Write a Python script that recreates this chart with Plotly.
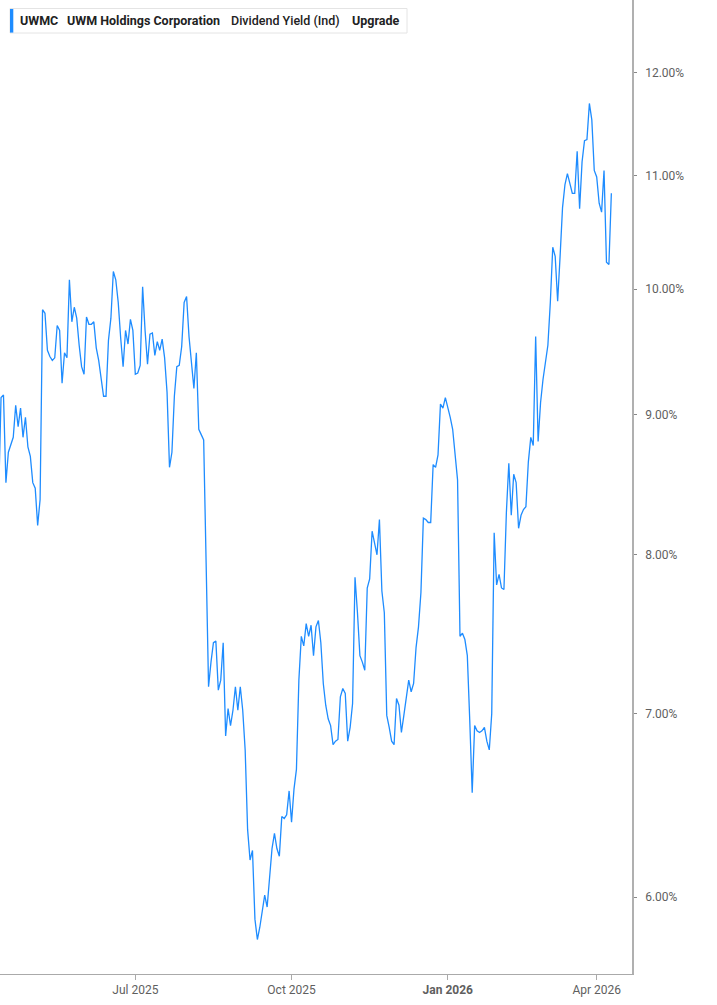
import numpy as np
import pandas as pd
import plotly.graph_objects as go

# US market holidays inside the window (no trading, no gap on the chart)
holidays = ["2025-04-18", "2025-05-26", "2025-06-19", "2025-07-04", "2025-09-01",
            "2025-11-27", "2025-12-25", "2026-01-01", "2026-01-19", "2026-02-16",
            "2026-04-03"]

# UWMC dividend yield (ind), % , one value per trading day from 2025-04-09
div_yield = [
    8.40, 9.13, 9.15, 8.50, 8.72, 8.77, 8.83, 9.07, 8.91, 9.05,
    8.83, 8.98, 8.76, 8.69, 8.50, 8.46, 8.20, 8.38, 9.83, 9.80,
    9.50, 9.45, 9.42, 9.44, 9.70, 9.66, 9.24, 9.48, 9.44, 10.08,
    9.73, 9.85, 9.76, 9.54, 9.37, 9.31, 9.77, 9.71, 9.71, 9.73,
    9.52, 9.42, 9.27, 9.14, 9.14, 9.58, 9.76, 10.15, 10.08, 9.89,
    9.60, 9.37, 9.66, 9.55, 9.75, 9.66, 9.31, 9.32, 9.38, 10.02,
    9.66, 9.39, 9.63, 9.64, 9.46, 9.57, 9.50, 9.59, 9.44, 9.17,
    8.61, 8.72, 9.14, 9.37, 9.38, 9.53, 9.89, 9.94, 9.61, 9.37,
    9.20, 9.48, 8.89, 8.85, 8.81, 7.95,
    7.16, 7.31, 7.43, 7.44, 7.14, 7.20, 7.43, 6.87, 7.03, 6.93,
    7.02, 7.16, 7.02, 7.16, 7.02, 6.79, 6.35, 6.19, 6.24, 5.89,
    5.79, 5.85, 5.93, 6.01, 5.95, 6.09, 6.25, 6.33, 6.25, 6.21,
    6.42, 6.41, 6.43, 6.56, 6.39, 6.57, 6.68, 7.20, 7.47, 7.41,
    7.55, 7.47, 7.54, 7.35, 7.53, 7.57, 7.43, 7.18, 7.05, 6.97,
    6.93, 6.82, 6.84, 6.85, 7.10, 7.15, 7.12,
    6.84, 6.92, 7.06, 7.85, 7.62, 7.35, 7.31, 7.26, 7.78, 7.84,
    8.16, 8.08, 8.00, 8.24, 7.76, 7.62, 6.99, 6.92, 6.84, 6.82,
    7.09, 7.05, 6.89, 6.99, 7.10, 7.20, 7.13, 7.18, 7.40, 7.53,
    7.75, 8.25, 8.24, 8.22, 8.22, 8.63, 8.61, 8.70, 9.08, 9.05,
    9.13, 9.06, 8.98, 8.89, 8.69, 8.52, 7.47, 7.49, 7.45, 7.35,
    6.96, 6.55, 6.93, 6.90, 6.89, 6.90, 6.92, 6.84, 6.79, 7.00,
    8.15, 7.80, 7.87, 7.78, 7.77, 8.29, 8.64, 8.27, 8.56, 8.50,
    8.18, 8.27, 8.31, 8.33, 8.65, 8.83, 8.77, 9.61, 8.80, 9.09,
    9.27, 9.40, 9.54, 9.89, 10.36, 10.28, 9.90, 10.28, 10.71, 10.92,
    11.02, 10.93, 10.84, 10.84, 11.23, 10.70, 11.13, 11.33, 11.34, 11.69,
    11.53, 11.05, 10.99, 10.75, 10.67, 11.05, 10.23, 10.21, 10.84,
]

dates = pd.bdate_range(start="2025-04-09", periods=len(div_yield), freq="C", holidays=holidays)

y_ticks = [6, 7, 8, 9, 10, 11, 12]
y_ticktext = ["6.00%", "7.00%", "8.00%", "9.00%", "10.00%", "11.00%", "12.00%"]
x_ticks = ["2025-07-01", "2025-10-01", "2026-01-02", "2026-04-01"]
x_ticktext = ["Jul 2025", "Oct 2025", "<b>Jan 2026</b>", "Apr 2026"]

BLUE = "#1E8CFF"
W, H = 632, 974  # plot area in px


def px(x):
    return x / W


def py(y):
    return 1 - y / H


fig = go.Figure()
fig.add_trace(go.Scatter(x=dates, y=div_yield, mode="lines",
                         line=dict(color=BLUE, width=1.3), showlegend=False))

# header box
fig.add_shape(type="rect", xref="paper", yref="paper", x0=px(10), x1=px(407), y0=py(8.5), y1=py(33),
              line=dict(color="#e4e4e4", width=1), fillcolor="white", layer="above")
fig.add_shape(type="rect", xref="paper", yref="paper", x0=px(10), x1=px(13.3), y0=py(9), y1=py(32.6),
              line=dict(width=0), fillcolor=BLUE, layer="above")
head = [("UWMC", 18, 700), ("UWM Holdings Corporation", 65, 700),
        ("Dividend Yield (Ind)", 229, 500), ("Upgrade", 350, 700)]
for txt, x, wt in head:
    fig.add_annotation(text=txt, xref="paper", yref="paper", x=px(x), y=py(21),
                       xanchor="left", yanchor="middle", showarrow=False,
                       font=dict(family="Roboto", size=12.5, color="#222", weight=wt))

# last value tag
last = np.log10(div_yield[-1])
fig.add_shape(type="rect", xref="paper", yref="y", xsizemode="pixel", ysizemode="pixel",
              xanchor=1, yanchor=last, x0=1, x1=90, y0=-12, y1=12,
              line=dict(width=0), fillcolor=BLUE, layer="above")
for txt, dy in [("<b>Div Yld (Ind)</b>", 5.5), ("<b>Upgrade</b>", -5.5)]:
    fig.add_annotation(text=txt, xref="paper", yref="y", x=1, y=last, xshift=43, yshift=dy,
                       xanchor="center", yanchor="middle", showarrow=False,
                       font=dict(family="Roboto", size=11, color="white"))

fig.update_xaxes(type="date",
                 rangebreaks=[dict(bounds=["sat", "mon"]), dict(values=holidays)],
                 range=["2025-04-09 13:45", "2026-04-22 11:00"],
                 tickmode="array", tickvals=x_ticks, ticktext=x_ticktext,
                 ticks="outside", ticklen=5, tickcolor="#aaa",
                 showline=True, linecolor="#aaa", linewidth=1,
                 showgrid=False, zeroline=False, automargin=False,
                 tickfont=dict(family="Roboto", size=12, color="#5f5f5f"))
fig.update_yaxes(type="log", side="right", range=[0.75009, 1.10557],
                 tickmode="array", tickvals=y_ticks, ticktext=y_ticktext,
                 ticks="outside", ticklen=3, tickcolor="#888", ticklabelstandoff=6,
                 showline=True, linecolor="#b0b0b0", linewidth=1.5,
                 showgrid=False, zeroline=False, automargin=False,
                 tickfont=dict(family="Roboto", size=12, color="#5f5f5f"))

fig.update_layout(width=717, height=1005, margin=dict(l=0, r=717 - W, t=0, b=1005 - H),
                  plot_bgcolor="white", paper_bgcolor="white")

# page body has an 8px default margin; drop it so the chart sits at the window corner
fig.write_html("out.html", config={"displayModeBar": False},
               post_script="document.body.style.margin='0';")
